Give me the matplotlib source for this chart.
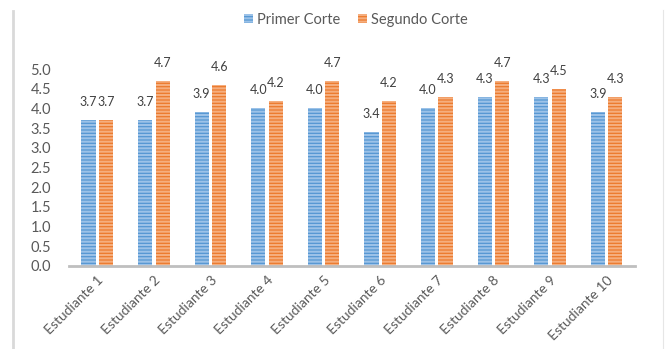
import matplotlib
matplotlib.use("Agg")
import matplotlib.pyplot as plt
from matplotlib.lines import Line2D
import numpy as np

plt.rcParams['font.family'] = ['Lato', 'DejaVu Sans']
plt.rcParams['hatch.linewidth'] = 1.5

estudiantes = ['Estudiante 1', 'Estudiante 2', 'Estudiante 3', 'Estudiante 4', 'Estudiante 5',
               'Estudiante 6', 'Estudiante 7', 'Estudiante 8', 'Estudiante 9', 'Estudiante 10']
primer_corte = [3.7, 3.7, 3.9, 4.0, 4.0, 3.4, 4.0, 4.3, 4.3, 3.9]
segundo_corte = [3.7, 4.7, 4.6, 4.2, 4.7, 4.2, 4.3, 4.7, 4.5, 4.3]
y_ticks = [0.0, 0.5, 1.0, 1.5, 2.0, 2.5, 3.0, 3.5, 4.0, 4.5, 5.0]

blue, blue_light = '#5597D3', '#9CC2E8'
orange, orange_light = '#EC7A2D', '#F5AE7E'
grey_txt = '#595959'

fig = plt.figure(figsize=(6.72, 3.49), dpi=100)
ax = fig.add_axes([0.1027, 0.238, 0.842, 0.564])

x = np.arange(len(estudiantes))
w = 0.25
gap = 0.03
b1 = ax.bar(x - w / 2 - gap, primer_corte, w, color=blue, edgecolor=blue_light,
            linewidth=0, hatch='-----', label='Primer Corte')
b2 = ax.bar(x + w / 2 + gap, segundo_corte, w, color=orange, edgecolor=orange_light,
            linewidth=0, hatch='-----', label='Segundo Corte')

# data labels above each bar
for bars, vals in ((b1, primer_corte), (b2, segundo_corte)):
    for rect, v in zip(bars, vals):
        ax.annotate(f'{v:.1f}', (rect.get_x() + rect.get_width() / 2, v),
                    xytext=(0, 13), textcoords='offset points', ha='center', va='center',
                    fontsize=9, color='#404040', annotation_clip=False)

ax.set_xlim(-0.5, 9.5)
ax.set_ylim(0, 5.0)
ax.set_yticks(y_ticks)
ax.set_yticklabels([f'{t:.1f}' for t in y_ticks], fontsize=10.5, color=grey_txt)
ax.set_xticks(x)
ax.set_xticklabels(estudiantes, rotation=45, ha='right', va='top', rotation_mode='anchor',
                   fontsize=10, color=grey_txt)
ax.tick_params(axis='both', length=0)
ax.tick_params(axis='y', pad=13)
ax.tick_params(axis='x', pad=6)

for s in ('top', 'right', 'left'):
    ax.spines[s].set_visible(False)
ax.spines['bottom'].set_color('#BFBFBF')
ax.spines['bottom'].set_linewidth(2)

ax.legend(loc='center', bbox_to_anchor=(0.53, 0.943), bbox_transform=fig.transFigure,
          ncol=2, frameon=False, fontsize=10.5, handlelength=0.6, handleheight=0.6,
          handletextpad=0.3, columnspacing=1.2, labelcolor=grey_txt)

# chart border lines
fig.add_artist(Line2D([13 / 672, 13 / 672], [0, 1 - 11 / 349], color='#D9D9D9', linewidth=2))
fig.add_artist(Line2D([663 / 672, 663 / 672], [0, 1 - 10 / 349], color='#E6E6E6', linewidth=0.8))

fig.savefig('out.png', dpi=100)
